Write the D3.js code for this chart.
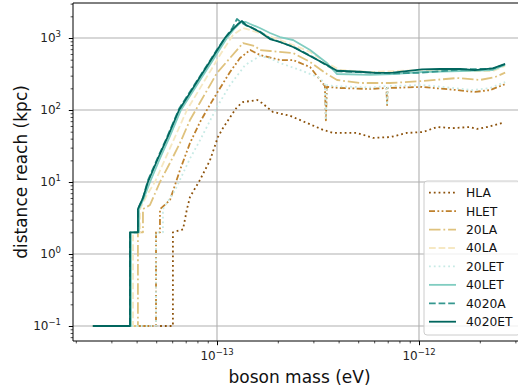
<!DOCTYPE html>
<html>
<head>
<meta charset="utf-8">
<script src="https://cdn.jsdelivr.net/npm/d3@7"></script>
<style>
  html, body { margin: 0; padding: 0; background: #fff; }
  svg { display: block; font-family: "DejaVu Sans", sans-serif; }
</style>
</head>
<body>
<svg id="chart" width="518" height="389"></svg>
<script>
// ---------------- data ----------------
const seriesNames = ["HLA", "HLET", "20LA", "40LA", "20LET", "40LET", "4020A", "4020ET"];

const hlaMass = [2.43e-14, 6.05e-14, 6.05e-14, 6.79e-14, 7.10e-14, 7.35e-14, 8.24e-14, 9.23e-14, 1.01e-13, 1.07e-13, 1.256e-13, 1.345e-13, 1.46e-13, 1.58e-13, 1.67e-13, 1.89e-13, 2.30e-13, 2.79e-13, 3.35e-13, 3.75e-13, 4.93e-13, 5.92e-13, 7.19e-13, 8.72e-13, 1.047e-12, 1.23e-12, 1.47e-12, 1.79e-12, 1.94e-12, 2.17e-12, 2.58e-12];
const hlaDist = [0.1, 0.1, 2, 2.2, 4.2, 6.2, 10.7, 20, 42, 56, 110, 129, 133, 138, 125, 94, 83, 66, 53, 48, 48, 41, 42, 48, 49.5, 58, 56, 58, 54.5, 58, 66];

const hletMass = [2.43e-14, 4.99e-14, 4.99e-14, 5.22e-14, 5.22e-14, 5.85e-14, 6.56e-14, 7.35e-14, 8.24e-14, 9.03e-14, 1.0e-13, 1.16e-13, 1.30e-13, 1.46e-13, 1.63e-13, 2.05e-13, 2.38e-13, 2.89e-13, 3.24e-13, 3.42e-13, 3.46e-13, 3.50e-13, 4.06e-13, 5.72e-13, 6.90e-13, 6.95e-13, 7.00e-13, 1.035e-12, 1.54e-12, 1.89e-12, 2.25e-12, 2.67e-12];
const hletDist = [0.1, 0.1, 2, 2, 4.2, 5.6, 14.7, 34.8, 68, 107, 172, 337, 527, 681, 581, 494, 494, 395, 261, 215, 72, 210, 202, 196, 202, 117, 202, 209, 189, 178, 189, 229];

const la20Mass = [2.43e-14, 4.06e-14, 4.06e-14, 4.30e-14, 4.30e-14, 4.66e-14, 5.22e-14, 5.85e-14, 6.56e-14, 7.35e-14, 8.24e-14, 1.0e-13, 1.16e-13, 1.345e-13, 1.54e-13, 1.63e-13, 1.83e-13, 2.38e-13, 2.89e-13, 3.50e-13, 3.93e-13, 5.10e-13, 7.19e-13, 1.047e-12, 1.54e-12, 2.0e-12, 2.38e-12, 2.67e-12];
const la20Dist = [0.1, 0.1, 2, 2, 4.2, 4.8, 10, 18.4, 34.8, 72.6, 127, 327, 527, 852, 774, 681, 660, 619, 464, 316, 261, 237, 237, 253, 278, 261, 287, 330];

const la40Mass = [2.43e-14, 3.84e-14, 3.84e-14, 4.16e-14, 4.16e-14, 4.50e-14, 4.93e-14, 7.10e-14, 8.72e-14, 1.035e-13, 1.20e-13, 1.345e-13, 1.46e-13, 1.63e-13, 2.05e-13, 2.38e-13, 2.89e-13, 3.50e-13, 4.06e-13, 5.72e-13, 1.035e-12, 1.60e-12, 2.32e-12, 2.67e-12];
const la40Dist = [0.1, 0.1, 2, 2, 4.2, 6.6, 10, 100, 261, 581, 1100, 1380, 1290, 1170, 938, 800, 640, 449, 360, 337, 360, 348, 348, 409];

const let20Mass = [2.43e-14, 4.99e-14, 4.99e-14, 5.40e-14, 5.40e-14, 6.20e-14, 7.35e-14, 8.24e-14, 1.0e-13, 1.16e-13, 1.38e-13, 1.63e-13, 1.83e-13, 2.05e-13, 2.58e-13, 3.24e-13, 3.42e-13, 3.46e-13, 3.50e-13, 3.84e-13, 5.72e-13, 6.90e-13, 6.95e-13, 7.00e-13, 1.047e-12, 1.54e-12, 1.85e-12, 2.25e-12, 2.67e-12];
const let20Dist = [0.1, 0.1, 2, 2, 4.2, 7.7, 21.2, 38, 110, 222, 422, 562, 520, 449, 359, 278, 225, 77, 222, 215, 205, 215, 117, 215, 222, 200, 189, 202, 245];

const let40Mass = [2.43e-14, 3.75e-14, 3.75e-14, 4.11e-14, 4.11e-14, 4.35e-14, 4.66e-14, 5.22e-14, 5.85e-14, 6.63e-14, 7.52e-14, 8.43e-14, 9.45e-14, 1.023e-13, 1.12e-13, 1.228e-13, 1.315e-13, 1.39e-13, 1.46e-13, 1.63e-13, 1.83e-13, 2.05e-13, 2.38e-13, 2.89e-13, 3.50e-13, 3.93e-13, 5.72e-13, 7.43e-13, 1.035e-12, 1.60e-12, 2.32e-12, 2.67e-12];
const let40Dist = [0.1, 0.1, 2, 2, 4.2, 6.0, 10, 21.2, 43.5, 100, 173, 287, 473, 670, 1000, 1377, 1668, 1668, 1564, 1377, 1174, 1032, 938, 681, 449, 316, 307, 316, 337, 348, 359, 422];

const a4020Mass = [2.43e-14, 3.71e-14, 3.71e-14, 4.06e-14, 4.06e-14, 4.30e-14, 4.55e-14, 5.10e-14, 5.72e-14, 6.49e-14, 7.35e-14, 8.24e-14, 9.23e-14, 1.0e-13, 1.095e-13, 1.187e-13, 1.256e-13, 1.315e-13, 1.39e-13, 1.46e-13, 1.63e-13, 1.83e-13, 2.05e-13, 2.38e-13, 2.89e-13, 3.50e-13, 3.93e-13, 5.10e-13, 7.43e-13, 1.035e-12, 1.60e-12, 2.32e-12, 2.67e-12];
const a4020Dist = [0.1, 0.1, 2, 2, 4.2, 6.0, 10.5, 22, 45, 104, 180, 295, 485, 690, 1000, 1350, 1837, 1650, 1500, 1430, 1230, 990, 880, 760, 570, 415, 345, 335, 322, 330, 365, 375, 430];

const et4020Mass = [2.43e-14, 3.71e-14, 3.71e-14, 4.06e-14, 4.06e-14, 4.30e-14, 4.55e-14, 5.10e-14, 5.72e-14, 6.49e-14, 7.35e-14, 8.24e-14, 9.23e-14, 1.0e-13, 1.095e-13, 1.187e-13, 1.27e-13, 1.33e-13, 1.39e-13, 1.46e-13, 1.63e-13, 1.83e-13, 2.05e-13, 2.38e-13, 2.89e-13, 3.50e-13, 3.93e-13, 5.10e-13, 6.06e-13, 7.43e-13, 1.035e-12, 1.27e-12, 1.60e-12, 1.89e-12, 2.32e-12, 2.67e-12];
const et4020Dist = [0.1, 0.1, 2, 2, 4.2, 6.0, 10, 21.2, 43.5, 100, 173, 287, 473, 670, 1000, 1292, 1564, 1722, 1516, 1422, 1212, 968, 880, 750, 562, 422, 351, 340, 327, 330, 367, 371, 371, 359, 379, 436];

const xTickValues = [1e-13, 1e-12];
const xTickExponents = ["\u221213", "\u221212"];
const yTickValues = [0.1, 1, 10, 100, 1000];
const yTickExponents = ["\u22121", "0", "1", "2", "3"];

// ---------------- styles ----------------
const colors = ["#8c510a", "#bf812d", "#dfc27d", "#f6e8c3", "#c7eae5", "#80cdc1", "#35978f", "#01665e"];
const dashes = ["1.8,3", "6,2.4,1.8,2.4,1.8,2.4", "11.5,2.9,1.8,2.9", "6.7,2.9", "1.8,3", null, "6.7,2.9", null];

const series = [
  [hlaMass, hlaDist], [hletMass, hletDist], [la20Mass, la20Dist], [la40Mass, la40Dist],
  [let20Mass, let20Dist], [let40Mass, let40Dist], [a4020Mass, a4020Dist], [et4020Mass, et4020Dist]
].map((s, i) => ({
  name: seriesNames[i], color: colors[i], dash: dashes[i],
  points: s[0].map((m, j) => [m, s[1][j]])
}));

// ---------------- layout ----------------
const L = 73, R = 526, T = 3, B = 341;
const svg = d3.select("#chart");

const x = d3.scaleLog()
  .domain([1e-13 * Math.pow(10, -(217 - L) / 202), 1e-13 * Math.pow(10, (R - 217) / 202)])
  .range([L, R]);
const y = d3.scaleLog()
  .domain([1000 * Math.pow(10, -(B - 38) / 72), 1000 * Math.pow(10, (38 - T) / 72)])
  .range([B, T]);

svg.append("defs").append("clipPath").attr("id", "clip")
  .append("rect").attr("x", L).attr("y", T).attr("width", R - L).attr("height", B - T);

// grid
const grid = svg.append("g").attr("stroke", "#b0b0b0").attr("stroke-width", 1.1);
xTickValues.forEach(v => grid.append("line")
  .attr("x1", x(v)).attr("x2", x(v)).attr("y1", T).attr("y2", B));
yTickValues.forEach(v => grid.append("line")
  .attr("x1", L).attr("x2", R).attr("y1", y(v)).attr("y2", y(v)));

// lines
const line = d3.line().x(d => x(d[0])).y(d => y(d[1]));
const plot = svg.append("g").attr("clip-path", "url(#clip)");
series.forEach(s => {
  plot.append("path")
    .attr("d", line(s.points))
    .attr("fill", "none")
    .attr("stroke", s.color)
    .attr("stroke-width", 1.8)
    .attr("stroke-linejoin", "round")
    .attr("stroke-dasharray", s.dash);
});

// axes (ticks)
const xAxis = d3.axisBottom(x).tickValues(xTickValues).tickSize(4.2).tickFormat("");
const xMinor = [];
for (let e = -14; e <= -12; e++) for (let k = 2; k <= 9; k++) {
  const v = k * Math.pow(10, e);
  if (v > x.domain()[0] && v < x.domain()[1]) xMinor.push(v);
}
const yMinor = [];
for (let e = -2; e <= 3; e++) for (let k = 2; k <= 9; k++) {
  const v = k * Math.pow(10, e);
  if (v > y.domain()[0] && v < y.domain()[1]) yMinor.push(v);
}
const gx = svg.append("g").attr("transform", `translate(0,${B})`).call(xAxis);
svg.append("g").attr("transform", `translate(0,${B})`)
  .call(d3.axisBottom(x).tickValues(xMinor).tickSize(2.4).tickFormat(""))
  .call(g => g.selectAll(".tick line").attr("stroke-width", 0.7));
const gy = svg.append("g").attr("transform", `translate(${L},0)`)
  .call(d3.axisLeft(y).tickValues(yTickValues).tickSize(4.2).tickFormat(""));
svg.append("g").attr("transform", `translate(${L},0)`)
  .call(d3.axisLeft(y).tickValues(yMinor).tickSize(2.4).tickFormat(""))
  .call(g => g.selectAll(".tick line").attr("stroke-width", 0.7));
svg.selectAll(".domain").remove();

// spines
svg.append("line").attr("x1", L).attr("x2", L).attr("y1", T).attr("y2", B).attr("stroke", "#000").attr("stroke-width", 1);
svg.append("line").attr("x1", L).attr("x2", R).attr("y1", B).attr("y2", B).attr("stroke", "#000").attr("stroke-width", 1);
svg.append("line").attr("x1", L).attr("x2", R).attr("y1", T).attr("y2", T).attr("stroke", "#000").attr("stroke-width", 1);
svg.append("line").attr("x1", R).attr("x2", R).attr("y1", T).attr("y2", B).attr("stroke", "#000").attr("stroke-width", 1);

// tick labels
xTickValues.forEach((v, i) => {
  const t = svg.append("text").attr("x", x(v)).attr("y", 360)
    .attr("text-anchor", "middle").attr("font-size", 12).attr("fill", "#222");
  t.append("tspan").text("10");
  t.append("tspan").attr("dy", -5).attr("font-size", 8.5).text(xTickExponents[i]);
});
yTickValues.forEach((v, i) => {
  const t = svg.append("text").attr("x", 61).attr("y", y(v) + 4.3)
    .attr("text-anchor", "end").attr("font-size", 12).attr("fill", "#222");
  t.append("tspan").text("10");
  t.append("tspan").attr("dy", -5).attr("font-size", 8.5).text(yTickExponents[i]);
});

// axis labels
svg.append("text").attr("x", (L + R) / 2).attr("y", 383)
  .attr("text-anchor", "middle").attr("font-size", 17).attr("fill", "#111")
  .text("boson mass (eV)");
svg.append("text").attr("transform", `translate(27,${(T + B) / 2}) rotate(-90)`)
  .attr("text-anchor", "middle").attr("font-size", 17).attr("fill", "#111")
  .text("distance reach (kpc)");

// legend
const lg = svg.append("g");
lg.append("rect").attr("x", 424).attr("y", 181).attr("width", 96).attr("height", 154)
  .attr("rx", 3).attr("fill", "#fff").attr("fill-opacity", 0.8)
  .attr("stroke", "#cccccc").attr("stroke-width", 1);
series.forEach((s, i) => {
  const yy = 192.7 + i * 18.43;
  lg.append("line").attr("x1", 429).attr("x2", 456).attr("y1", yy).attr("y2", yy)
    .attr("stroke", s.color).attr("stroke-width", 1.8).attr("stroke-dasharray", s.dash);
  lg.append("text").attr("x", 466).attr("y", yy + 4.4).attr("font-size", 12.3)
    .attr("fill", "#111").text(s.name);
});
</script>
</body>
</html>
